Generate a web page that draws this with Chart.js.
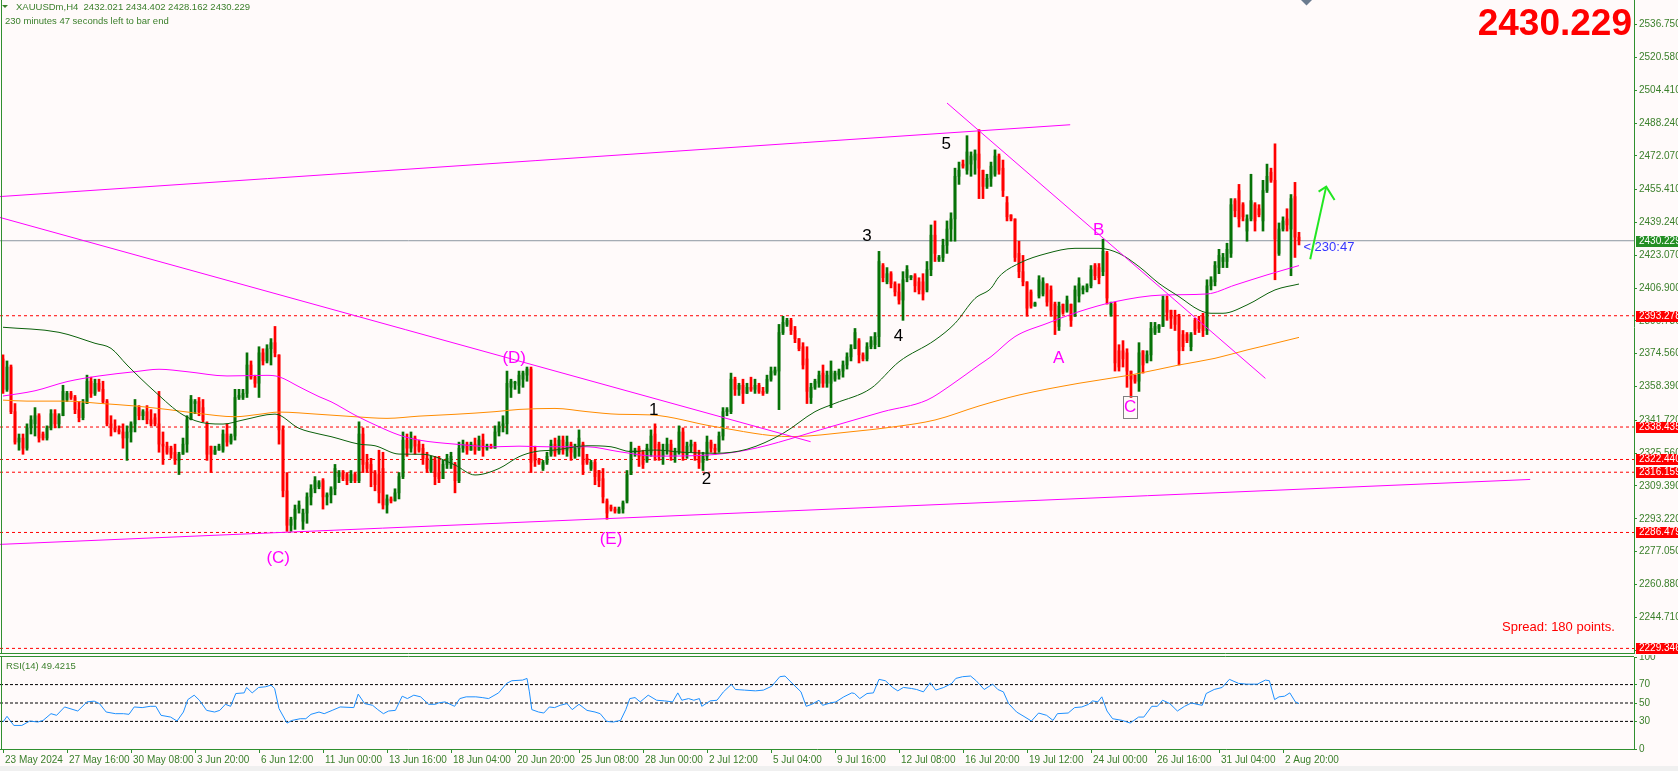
<!DOCTYPE html>
<html>
<head>
<meta charset="utf-8">
<title>XAUUSDm,H4</title>
<script src="https://cdn.jsdelivr.net/npm/chart.js@4.4.1/dist/chart.umd.min.js"></script>
<style>
  html, body { margin: 0; padding: 0; background: #fffafa; }
  body { width: 1678px; height: 771px; position: relative; overflow: hidden; font-family: "Liberation Sans", Arial, sans-serif; }
  canvas { position: absolute; left: 0; }
  #priceChart { top: 0; }
  #rsiChart { top: 655px; }
  .lbl { position: absolute; white-space: pre; line-height: 1; }
  #statusbar { position: absolute; left: 0; top: 766px; width: 1678px; height: 5px; background: #f0f0f0; }
</style>
</head>
<body>
<canvas id="priceChart" width="1678" height="654"></canvas>
<canvas id="rsiChart" width="1678" height="116"></canvas>
<div id="statusbar"></div>

<div class="lbl" style="left:2px;top:5px;width:0;height:0;border-left:3px solid transparent;border-right:3px solid transparent;border-top:3px solid #3a7f2a;"></div>
<div class="lbl" style="left:16px;top:2px;font-size:9.5px;color:#3a7f2a;">XAUUSDm,H4  2432.021 2434.402 2428.162 2430.229</div>
<div class="lbl" style="left:5px;top:16px;font-size:9.5px;color:#3a7f2a;">230 minutes 47 seconds left to bar end</div>
<div class="lbl" style="right:46px;top:4px;font-size:37px;font-weight:bold;color:#ff0000;">2430.229</div>
<div class="lbl" style="left:1502px;top:620px;font-size:13px;color:#ff0000;">Spread: 180 points.</div>
<div class="lbl" style="left:6px;top:661px;font-size:9.5px;color:#3a7f2a;">RSI(14) 49.4215</div>

<script>
// ---- candles (H4, 23 May 2024 .. 2 Aug 2024) ----
const opens = [
  2372,2357,2368,2346,2331,2333,2328,2338,2340,2344,
  2335,2333,2338,2345,2340,2344,2352,2355,2353,2347,
  2343,2350,2361,2355,2360,2357,2351,2340,2338,2337,
  2336,2333,2336,2340,2348,2344,2346,2342,2343,2340,
  2330,2329,2328,2326,2322,2325,2330,2342,2350,2351,
  2348,2340,2329,2325,2327,2327,2335,2331,2334,2353,
  2353,2355,2369,2363,2360,2375,2371,2377,2380,2374,
  2337,2307,2290,2293,2298,2292,2296,2304,2308,2309,
  2312,2304,2305,2308,2314,2316,2315,2312,2315,2312,
  2335,2321,2320,2316,2315,2318,2300,2303,2302,2306,
  2314,2332,2328,2333,2330,2328,2323,2317,2322,2316,
  2313,2320,2320,2320,2312,2328,2330,2327,2330,2327,
  2332,2328,2329,2328,2336,2339,2340,2358,2360,2359,
  2362,2364,2367,2325,2322,2318,2321,2325,2330,2326,
  2332,2327,2330,2324,2328,2330,2323,2318,2321,2317,
  2313,2302,2299,2298,2296,2298,2302,2315,2326,2328,
  2326,2322,2326,2335,2330,2324,2327,2330,2324,2326,
  2336,2325,2329,2330,2324,2321,2324,2331,2328,2327,
  2334,2346,2346,2362,2357,2359,2355,2358,2357,2359,
  2356,2356,2362,2365,2366,2385,2389,2391,2386,2382,
  2378,2372,2353,2358,2360,2365,2360,2360,2362,2364,
  2366,2369,2373,2377,2381,2374,2372,2378,2379,2383,
  2418,2410,2414,2409,2405,2401,2412,2412,2413,2410,
  2410,2406,2416,2433,2421,2422,2428,2436,2441,2462,
  2468,2465,2468,2470,2473,2465,2457,2461,2463,2472,
  2466,2449,2443,2441,2424,2415,2410,2405,2398,2403,
  2404,2409,2406,2399,2388,2399,2396,2399,2393,2403,
  2406,2406,2408,2418,2417,2415,2424,2394,2399,2376,
  2376,2375,2366,2364,2361,2376,2371,2374,2385,2387,
  2388,2401,2396,2393,2393,2384,2384,2378,2391,2391,
  2393,2386,2408,2410,2417,2420,2420,2424,2450,2455,
  2448,2435,2441,2448,2446,2440,2455,2464,2460,2424,
  2436,2441,2436,2452,2432.021
];
const highs = [
  2374,2371,2369,2350,2335,2335,2340,2344,2348,2345,
  2336,2339,2347,2347,2345,2359,2356,2356,2354,2351,
  2352,2364,2363,2362,2362,2361,2352,2344,2342,2339,
  2340,2339,2341,2352,2349,2347,2349,2347,2345,2356,
  2336,2331,2329,2330,2326,2333,2344,2354,2352,2353,
  2352,2341,2329,2329,2330,2337,2340,2335,2357,2357,
  2357,2375,2371,2364,2378,2377,2379,2382,2388,2374,
  2339,2316,2294,2300,2302,2298,2306,2310,2314,2312,
  2313,2306,2309,2320,2317,2317,2316,2317,2316,2341,
  2338,2325,2323,2317,2327,2326,2305,2304,2308,2316,
  2336,2335,2336,2334,2332,2330,2326,2324,2324,2324,
  2322,2325,2326,2321,2331,2332,2331,2331,2333,2334,
  2335,2330,2330,2339,2341,2344,2366,2362,2361,2366,
  2366,2368,2368,2329,2323,2322,2326,2332,2333,2334,
  2334,2334,2331,2330,2337,2331,2325,2322,2322,2317,
  2318,2303,2300,2299,2299,2302,2317,2331,2328,2329,
  2327,2330,2337,2340,2331,2330,2333,2332,2328,2339,
  2338,2331,2332,2331,2327,2326,2334,2332,2330,2336,
  2348,2348,2365,2363,2360,2362,2360,2363,2362,2360,
  2358,2364,2368,2368,2389,2393,2392,2392,2388,2382,
  2380,2378,2360,2362,2366,2369,2366,2371,2366,2367,
  2371,2375,2379,2387,2382,2375,2380,2383,2385,2425,
  2419,2417,2415,2410,2409,2415,2418,2413,2414,2412,
  2414,2420,2438,2440,2423,2431,2440,2444,2466,2469,
  2470,2482,2474,2475,2485,2465,2463,2469,2475,2473,
  2470,2452,2443,2441,2430,2423,2410,2406,2400,2413,
  2412,2409,2408,2400,2400,2399,2403,2399,2408,2412,
  2408,2409,2418,2419,2419,2431,2425,2400,2400,2379,
  2381,2377,2366,2364,2380,2376,2376,2390,2390,2389,
  2403,2403,2396,2396,2394,2386,2385,2385,2392,2393,
  2394.5,2411,2412.5,2420,2426,2424,2429,2451,2451,2458,
  2449,2443,2463,2449,2448,2460,2468,2466,2478,2439,
  2442,2446,2453,2459,2434.402
];
const lows = [
  2355,2356,2345,2330,2327,2325,2327,2335,2334,2331,
  2332,2332,2337,2338,2338,2344,2351,2352,2345,2341,
  2342,2350,2353,2354,2356,2350,2339,2334,2336,2335,
  2328,2322,2331,2336,2342,2342,2340,2339,2339,2326,
  2320,2325,2323,2320,2315,2325,2326,2342,2345,2344,
  2341,2322,2316,2325,2327,2326,2329,2330,2332,2352,
  2352,2353,2362,2358,2353,2369,2370,2369,2373,2330,
  2304,2287,2287,2288,2296,2288,2291,2300,2306,2308,
  2298,2300,2301,2305,2311,2312,2310,2311,2311,2311,
  2316,2316,2309,2307,2301,2298,2296,2301,2302,2303,
  2313,2324,2326,2325,2326,2320,2316,2316,2310,2311,
  2313,2318,2318,2306,2311,2326,2325,2327,2325,2327,
  2324,2327,2328,2328,2334,2336,2335,2353,2357,2355,
  2358,2361,2316,2319,2320,2317,2320,2324,2324,2325,
  2325,2324,2322,2323,2324,2315,2320,2317,2310,2309,
  2301,2293,2297,2296,2296,2296,2301,2315,2324,2319,
  2318,2321,2324,2322,2322,2320,2325,2322,2321,2325,
  2322,2323,2326,2322,2318,2317,2322,2326,2325,2326,
  2332,2344,2345,2354,2354,2350,2355,2356,2355,2355,
  2354,2355,2361,2364,2347,2384,2388,2384,2380,2376,
  2367,2350,2350,2357,2358,2358,2358,2348,2361,2362,
  2363,2367,2371,2377,2370,2371,2371,2377,2377,2378,
  2410,2409,2407,2403,2399,2391,2410,2411,2405,2404,
  2401,2405,2413,2420,2420,2420,2424,2430,2430,2458,
  2466,2463,2462,2463,2451,2451,2456,2457,2462,2463,
  2452,2440,2440,2420,2412,2408,2393,2397,2398,2402,
  2403,2398,2393,2384,2386,2394,2395,2388,2393,2400,
  2404,2405,2407,2411,2409,2413,2399,2393,2366,2366,
  2368,2358,2353,2360,2356,2365,2370,2371,2384,2385,
  2388,2391,2387,2386,2369,2376,2380,2376,2384,2385,
  2383,2384,2406,2408,2414,2417,2417,2422,2442,2437,
  2440,2430,2440,2435,2442,2435,2454,2459,2411,2423,
  2435,2435,2413,2422,2428.162
];
const closes = [
  2357,2368,2346,2331,2333,2328,2338,2342,2344,2333,
  2333,2338,2345,2340,2344,2356,2355,2353,2347,2343,
  2350,2361,2355,2360,2357,2351,2340,2338,2337,2336,
  2333,2336,2340,2348,2344,2346,2342,2340,2340,2330,
  2329,2326,2325,2322,2325,2330,2342,2352,2351,2346,
  2342,2325,2325,2327,2329,2335,2331,2334,2353,2354,
  2355,2369,2363,2360,2375,2371,2377,2380,2375,2337,
  2307,2290,2293,2298,2300,2296,2304,2308,2312,2311,
  2304,2305,2308,2318,2316,2313,2312,2315,2312,2335,
  2320,2318,2316,2310,2306,2300,2303,2302,2306,2314,
  2332,2328,2333,2329,2327,2323,2318,2322,2314,2313,
  2320,2323,2324,2312,2328,2330,2327,2330,2327,2332,
  2328,2329,2328,2336,2339,2340,2360,2361,2360.5,2364,
  2365,2367,2321,2322,2321,2321,2324,2330,2326,2332,
  2327,2331,2326,2328,2333,2320,2321,2321,2314,2312,
  2304,2296,2298,2297,2298,2301,2315,2327,2327,2324,
  2320,2328,2334,2328,2324,2327,2330,2324,2326,2336,
  2325,2329,2330,2324,2321,2324,2331,2328,2327,2334,
  2346,2347,2362,2357,2359,2355,2358,2357,2359,2356,
  2355,2362,2366,2366.5,2385,2390,2391,2386,2382,2377,
  2369,2356,2358,2361,2364,2360,2364,2366,2365,2366,
  2369,2373,2377,2385,2374,2372,2378,2381,2383,2420,
  2412,2414,2409,2405,2401,2411,2416,2413,2408,2406,
  2404,2416,2433,2424,2422,2428,2436,2441,2462,2465,
  2467,2474,2472,2473,2466,2457,2461,2467,2472,2465,
  2455,2442,2441,2422,2415,2410,2397,2398,2399.5,2411,
  2410,2400,2396,2390,2398,2395,2401,2391,2406,2409,
  2407,2408,2416,2413,2412,2425,2402,2399,2370,2368,
  2372,2366,2362,2361,2375,2369,2374,2387,2388,2388.5,
  2401,2395,2392,2389,2376,2378,2381,2384,2386,2387,
  2386,2408,2411,2418,2423,2422,2426,2448,2445,2441,
  2442,2441,2450,2440,2443,2455,2462,2460,2431,2436,
  2440,2438,2451,2432,2430.229
];

// time axis: one label every 16 bars
const timeLabels = [
  "23 May 2024", "27 May 16:00", "30 May 08:00", "3 Jun 20:00", "6 Jun 12:00",
  "11 Jun 00:00", "13 Jun 16:00", "18 Jun 04:00", "20 Jun 20:00", "25 Jun 08:00",
  "28 Jun 00:00", "2 Jul 12:00", "5 Jul 04:00", "9 Jul 16:00", "12 Jul 08:00",
  "16 Jul 20:00", "19 Jul 12:00", "24 Jul 00:00", "26 Jul 16:00", "31 Jul 04:00",
  "2 Aug 20:00"
];
const priceTicks = [
  2536.750, 2520.580, 2504.410, 2488.240, 2472.070, 2455.410, 2439.240, 2423.070,
  2406.900, 2390.730, 2374.560, 2358.390, 2341.720, 2325.560, 2309.390, 2293.220,
  2277.050, 2260.880, 2244.710, 2228.540
];
const levelPrices = [2393.278, 2338.435, 2322.440, 2316.159, 2286.479, 2229.346];
const lastPrice = 2430.229;

// moving averages (bar index / value)
const maGreenIdx = [0,14,23,27,31,38,45,51,55,60,68,74,79,82,89,93,99,105,108,113,
  118,124,129,133,138,146,152,157,163,170,178,186,195,203,208,217,224,233,238,243,
  247,249,254,261,268,274,279,284,289,294,299,302,305,311,318,324];
const maGreenVal = [2387.6,2385.1,2379.7,2377.2,2369.0,2355.8,2344.4,2340.2,2339.9,2341.9,
  2344.8,2337.8,2335.0,2333.7,2330.0,2329.2,2325.1,2325.0,2323.8,2319.7,
  2314.8,2318.0,2323.8,2326.3,2327.1,2329.2,2328.7,2326.3,2327.1,2326.0,
  2325.5,2327.5,2335.3,2346.0,2350.1,2357.5,2370.6,2381.3,2389.5,2401.8,
  2406.8,2412.5,2419.1,2424.0,2426.5,2426.5,2424.0,2417.5,2409.2,2402.7,
  2396.1,2394.5,2394.5,2398.6,2406.0,2408.9];
const maPinkIdx = [0,8,16,24,33,39,46,56,66,69,74,79,82,88,94,99,104,113,123,129,
  136,146,154,163,175,186,207,220,231,237,244,247,253,261,269,278,290,301,308,316,324];
const maPinkVal = [2353.7,2356.3,2360.8,2363.6,2365.7,2366.9,2365.7,2363.6,2363.9,2363.2,
  2358.3,2353.4,2350.9,2344.3,2338.6,2334.5,2332.0,2330.0,2328.7,2329.0,
  2328.7,2328.7,2326.3,2324.1,2324.5,2327.1,2338.6,2346.0,2351.7,2359.1,
  2369.0,2373.1,2383.0,2389.5,2395.3,2400.2,2403.5,2404.0,2408.4,2413.4,2418.0];
const maOrangeIdx = [0,6,16,24,33,41,49,58,64,69,79,88,96,104,113,123,129,138,146,154,
  162,178,197,212,223,233,244,254,269,282,294,303,311,318,324];
const maOrangeVal = [2351.7,2351.2,2351.2,2350.1,2348.8,2347.1,2345.1,2343.5,2344.7,2345.8,
  2344.7,2343.5,2342.7,2343.8,2344.7,2346.0,2347.1,2347.6,2346.0,2344.7,
  2344.4,2338.6,2333.7,2336.1,2338.6,2341.9,2348.8,2354.2,2360.0,2364.1,
  2369.0,2372.3,2376.4,2379.7,2382.6];

// drawn trend lines (bar index, price)
const channelTop = [[-0.75, 2452.0], [266.8, 2487.4]];
const channelBottom = [[-0.75, 2280.6], [381.8, 2312.6]];
const triangleTop = [[-0.75, 2441.7], [201.9, 2331.2]];
const fallLine = [[236.0, 2498.1], [315.6, 2362.4]];
const arrowShaft = [[326.8, 2421.1], [330.8, 2456.9]];
const arrowHead = [[328.9, 2454.4], [330.8, 2456.9], [332.9, 2450.3]];

// RSI(14)
const rsiIdx = [0,1,2.7,4.7,6.7,8.7,10,12,13.4,15.4,18.7,21,22.8,24.1,25.8,28.1,30.1,31.5,32.8,34.8,
  36.8,38.2,39.5,41.9,43.5,45.1,46.2,47.8,49.1,50.9,52.9,54.2,55.6,56.9,58.2,60.3,60.9,62.3,63.9,65.6,
  67,67.9,69,71,72.3,74.3,75.7,77,79,80.3,82.3,84.3,87.7,88.8,90.4,92.4,93.7,95.1,96.4,98.1,
  99.8,101.1,102.7,104.4,106.4,108.1,108.9,110.5,112.9,114.2,115.8,118.2,119.8,121.4,123.9,125.9,127.2,129.9,131,131.6,
  132.2,133.9,135.2,136.6,137.9,139.3,141,142.3,144,146,148,149.3,150.9,152.6,154.4,155.7,156.7,158,159.3,161.3,
  163.4,165.4,167.4,168.7,169.7,171.4,172.7,174.1,174.7,176.8,178.5,180.1,182.1,183.1,185.4,188.1,190.1,192.2,194.2,195.5,
  197.5,199.5,200.8,202.2,204,204.9,206.9,208.2,210.2,212.2,212.9,214.2,216,217.6,219,220.6,222.4,223.7,225.1,227.1,
  228.4,230.1,231.8,233.2,235.2,237.2,238.2,239.9,241.9,243.3,245.3,247.4,248.7,250.1,251.4,253.4,255.5,257.1,258.9,260.9,
  262.5,263.6,266.3,267.9,269.7,271.4,272.4,273.7,274.7,276,277.4,279.8,281.8,283.9,285.2,287.2,288.6,289.9,291.7,293.6,
  295.4,297.1,298.5,299.8,300.8,302.8,304.8,306.6,308.9,310.9,313.6,315.6,316.6,317.9,319,320.4,321.7,323.1,324];
const rsiVal = [29.3,35.5,25.6,25.6,30.4,29.3,31,38.4,36.6,45.7,41.3,51.2,52,49.4,40.2,38.4,38.4,37.7,45.7,45,
  46.4,46.4,36.6,34.7,30.4,40.2,53.7,58.5,53,42,40.2,42,48.6,46.4,60.3,61,66.9,61,66.9,67.6,
  69.4,65.8,43.9,28.2,31.1,32.9,32.9,37.7,40.2,38.4,42,45.7,45,59.6,49.4,47.5,42.8,38.4,41.3,42,
  57.4,54.8,58.5,56.7,48.6,48.6,50.1,51.2,46.4,54.8,56.7,56.7,55.9,54.8,61,71.3,74.2,74.9,76.7,62.1,
  42.8,40.2,39.1,45.7,45,47.5,49.4,42.8,48.6,42,40.2,38.4,30,29.3,31.1,42.8,54.8,55.9,51.2,58.5,
  53,52.3,51.2,61,53,54.8,53,54.8,46.4,52.3,53,62.1,70.2,64.7,64,63.2,64,68.3,78.6,79.3,
  70.5,62.1,46.4,48.6,53,47.5,50.1,51.2,56.7,61,60.3,54.8,60.3,61,75.7,74.2,66.9,63.2,66.9,65.8,
  64.7,62.1,72,64,66.9,71.3,76.7,78.6,79.3,74.2,64.7,70.5,64.7,62.1,49.4,40.2,34.7,30.4,39.1,36.6,
  31.1,38.4,39.1,45,45.7,48.6,52.3,51.2,56.7,41.3,32.9,31.1,28.2,34.7,34.7,46.4,46.4,53,49.4,41.3,
  46.4,50.1,48.6,47.5,60.3,64.7,66.9,75.7,71.3,70.5,70.5,74.9,74.2,53.7,56.7,57.4,61,51.2,49.42];
const rsiLevels = [70, 50, 30];
const rsiTicks = [100, 70, 50, 30, 0];

// wave marks written on the chart
const marks = [
  { t: "(C)", i: 68.8,  p: 2274.4, c: "#ff00ff" },
  { t: "(D)", i: 127.8, p: 2372.7, c: "#ff00ff" },
  { t: "(E)", i: 152.0, p: 2283.5, c: "#ff00ff" },
  { t: "1",   i: 162.7, p: 2347.3, c: "#000000" },
  { t: "2",   i: 175.9, p: 2313.1, c: "#000000" },
  { t: "3",   i: 216.0, p: 2432.7, c: "#000000" },
  { t: "4",   i: 223.9, p: 2383.8, c: "#000000" },
  { t: "5",   i: 235.8, p: 2478.3, c: "#000000" },
  { t: "A",   i: 263.9, p: 2372.6, c: "#ff00ff" },
  { t: "B",   i: 273.9, p: 2435.9, c: "#ff00ff" },
  { t: "C",   i: 281.8, p: 2348.5, c: "#ff00ff", box: true }
];

// ---- look ----
const X_MIN = -0.75, X_MAX = 407.75;
const bullColor = "#077207";
const bearColor = "#ff0000";
const frameColor = "#2f8f2f";
const axisText = "#3a7f2a";
const axisFont = { family: "Liberation Sans", size: 10 };

const toPts = (xs, ys) => xs.map((x, k) => ({ x: x, y: ys[k] }));
const pairPts = arr => arr.map(p => ({ x: p[0], y: p[1] }));

function lineSet(data, color, extra) {
  return Object.assign({
    type: "line", data: data, borderColor: color, borderWidth: 1,
    pointRadius: 0, fill: false, tension: 0
  }, extra || {});
}

const candleColors = closes.map((c, i) => c >= opens[i] ? bullColor : bearColor);
const wickData = closes.map((c, i) => ({ x: i, y: [lows[i], highs[i]] }));
const bodyData = closes.map((c, i) => ({ x: i, y: [Math.min(opens[i], c), Math.max(opens[i], c)] }));

const priceDatasets = [];
levelPrices.forEach(v => {
  priceDatasets.push(lineSet([{ x: X_MIN, y: v }, { x: X_MAX, y: v }], "#ff0000", { borderDash: [3, 3], order: 30 }));
});
priceDatasets.push(lineSet([{ x: X_MIN, y: lastPrice }, { x: X_MAX, y: lastPrice }], "#8c96a0", { order: 30 }));
priceDatasets.push({
  type: "bar", data: wickData, backgroundColor: candleColors,
  barThickness: 2, grouped: false, borderWidth: 0, order: 20
});
priceDatasets.push({
  type: "bar", data: bodyData, backgroundColor: candleColors,
  barThickness: 2, minBarLength: 1, grouped: false, borderWidth: 0, order: 19
});
priceDatasets.push(lineSet(toPts(maOrangeIdx, maOrangeVal), "#ff8c00", { cubicInterpolationMode: "monotone", order: 6 }));
priceDatasets.push(lineSet(toPts(maPinkIdx, maPinkVal), "#ff00ff", { cubicInterpolationMode: "monotone", order: 5 }));
priceDatasets.push(lineSet(toPts(maGreenIdx, maGreenVal), "#0b600b", { cubicInterpolationMode: "monotone", order: 4 }));
[channelTop, channelBottom, triangleTop, fallLine].forEach(l => {
  priceDatasets.push(lineSet(pairPts(l), "#ff00ff", { order: 3 }));
});
priceDatasets.push(lineSet(pairPts(arrowShaft), "#22e622", { borderWidth: 2, order: 1 }));
priceDatasets.push(lineSet(pairPts(arrowHead), "#22e622", { borderWidth: 2, order: 1 }));

// text, price boxes and frame on the price panel
const priceDecor = {
  id: "priceDecor",
  afterDraw(chart) {
    const { ctx, chartArea: a } = chart;
    const x = chart.scales.x, y = chart.scales.y;
    ctx.save();

    ctx.strokeStyle = frameColor;
    ctx.lineWidth = 1;
    ctx.beginPath();
    ctx.moveTo(1.5, 0); ctx.lineTo(1.5, a.bottom);
    ctx.moveTo(0, a.bottom - 0.5); ctx.lineTo(a.right, a.bottom - 0.5);
    ctx.stroke();

    // wave marks
    ctx.textAlign = "center";
    ctx.textBaseline = "middle";
    ctx.font = '17px "Liberation Sans"';
    marks.forEach(m => {
      const px = x.getPixelForValue(m.i), py = y.getPixelForValue(m.p);
      ctx.fillStyle = m.c;
      ctx.fillText(m.t, px, py + 1);
      if (m.box) {
        ctx.strokeStyle = "#808080";
        ctx.strokeRect(Math.round(px) - 6.5, Math.round(py) - 10.5, 14, 22);
      }
    });

    // bar countdown
    ctx.textAlign = "left";
    ctx.font = '13px "Liberation Sans"';
    ctx.fillStyle = "#3434ff";
    ctx.fillText("< 230:47", x.getPixelForValue(325.1), y.getPixelForValue(2426.7));

    // chart shift marker
    ctx.fillStyle = "#6b7b8f";
    ctx.beginPath();
    ctx.moveTo(1301, 0); ctx.lineTo(1312, 0); ctx.lineTo(1306.5, 5.5); ctx.closePath();
    ctx.fill();

    // price boxes on the scale
    ctx.font = '10px "Liberation Sans"';
    ctx.textBaseline = "middle";
    const box = (v, color) => {
      const py = Math.round(y.getPixelForValue(v));
      ctx.fillStyle = color;
      ctx.fillRect(a.right + 2, py - 5, 1678 - a.right - 2, 11);
      ctx.fillStyle = "#ffffff";
      ctx.fillText(v.toFixed(3), a.right + 5, py + 0.5);
    };
    levelPrices.forEach(v => box(v, "#ff0000"));
    box(lastPrice, "#248f24");
    ctx.restore();
  }
};

new Chart(document.getElementById("priceChart"), {
  type: "bar",
  data: { datasets: priceDatasets },
  options: {
    responsive: false,
    animation: false,
    devicePixelRatio: 1,
    events: [],
    layout: { padding: 0 },
    plugins: { legend: { display: false }, tooltip: { enabled: false } },
    scales: {
      x: { type: "linear", min: X_MIN, max: X_MAX, offset: false, display: false },
      y: {
        type: "linear", position: "right", min: 2226.58, max: 2548.87,
        afterBuildTicks: s => { s.ticks = priceTicks.map(v => ({ value: v })); },
        afterFit: s => { s.width = 44; s.paddingTop = 0; s.paddingBottom = 0; },
        grid: { drawOnChartArea: false, tickLength: 3, color: frameColor },
        border: { display: true, color: frameColor },
        ticks: { autoSkip: false, padding: 2, color: axisText, font: axisFont, callback: v => Number(v).toFixed(3) }
      }
    }
  },
  plugins: [priceDecor]
});

// ---- RSI panel ----
const rsiDatasets = rsiLevels.map(v =>
  lineSet([{ x: X_MIN, y: v }, { x: X_MAX, y: v }], "#000000", { borderDash: [3, 2], order: 5 }));
rsiDatasets.push(lineSet(toPts(rsiIdx, rsiVal), "#1e90ff", { order: 1 }));

const rsiFrame = {
  id: "rsiFrame",
  afterDraw(chart) {
    const { ctx, chartArea: a } = chart;
    ctx.save();
    ctx.strokeStyle = frameColor;
    ctx.lineWidth = 1;
    ctx.beginPath();
    ctx.moveTo(0, 1.5); ctx.lineTo(a.right, 1.5);
    ctx.moveTo(1.5, 1.5); ctx.lineTo(1.5, a.bottom);
    ctx.stroke();
    ctx.restore();
  }
};

new Chart(document.getElementById("rsiChart"), {
  type: "line",
  data: { datasets: rsiDatasets },
  options: {
    responsive: false,
    animation: false,
    devicePixelRatio: 1,
    events: [],
    layout: { padding: { top: 2, left: 0, right: 0, bottom: 0 } },
    plugins: { legend: { display: false }, tooltip: { enabled: false } },
    scales: {
      x: {
        type: "linear", min: X_MIN, max: X_MAX, offset: false, position: "bottom",
        afterBuildTicks: s => { s.ticks = timeLabels.map((t, k) => ({ value: k * 16 })); },
        afterFit: s => { s.height = 22; s.paddingLeft = 0; s.paddingRight = 0; },
        grid: { drawOnChartArea: false, tickLength: 4, color: frameColor },
        border: { display: true, color: frameColor },
        ticks: {
          autoSkip: false, maxRotation: 0, align: "start", padding: 1, labelOffset: 2,
          color: axisText, font: axisFont,
          callback: v => timeLabels[Math.round(v / 16)] || ""
        }
      },
      y: {
        type: "linear", position: "right", min: 0, max: 100,
        afterBuildTicks: s => { s.ticks = rsiTicks.map(v => ({ value: v })); },
        afterFit: s => { s.width = 44; s.paddingTop = 0; s.paddingBottom = 0; },
        grid: { drawOnChartArea: false, tickLength: 3, color: frameColor },
        border: { display: true, color: frameColor },
        ticks: { autoSkip: false, padding: 2, color: axisText, font: axisFont, callback: v => String(v) }
      }
    }
  },
  plugins: [rsiFrame]
});
</script>
</body>
</html>
